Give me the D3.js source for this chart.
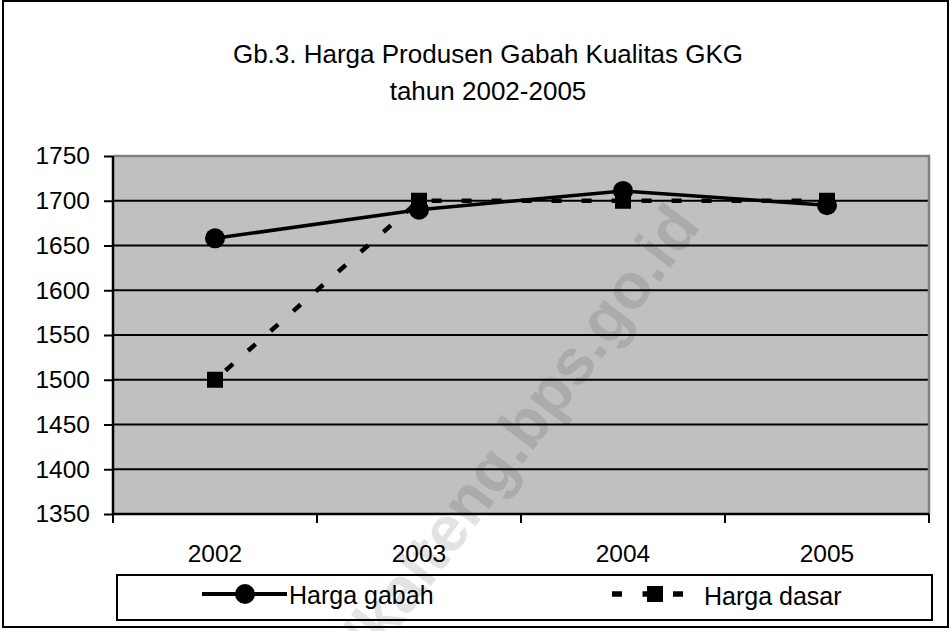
<!DOCTYPE html>
<html>
<head>
<meta charset="utf-8">
<script src="https://cdn.jsdelivr.net/npm/d3@7"></script>
<style>
  html, body { margin: 0; padding: 0; background: #fff; }
  svg { display: block; font-family: "Liberation Sans", Arial, sans-serif; }
</style>
</head>
<body>
<svg id="chart" width="950" height="631"></svg>
<script>
const categories = ["2002", "2003", "2004", "2005"];
const hargaGabah = [1658, 1690, 1711, 1695];
const hargaDasar = [1500, 1700, 1700, 1700];
const yTicks = [1350, 1400, 1450, 1500, 1550, 1600, 1650, 1700, 1750];
const titleLines = ["Gb.3. Harga Produsen Gabah Kualitas GKG", "tahun 2002-2005"];
const seriesNames = ["Harga gabah", "Harga dasar"];
const watermark = "http://kalteng.bps.go.id";

const svg = d3.select("#chart");
const plot = { left: 113, right: 929, top: 156, bottom: 514 };

const x = d3.scaleBand().domain(categories).range([plot.left, plot.right]).padding(0);
const y = d3.scaleLinear().domain([1350, 1750]).range([plot.bottom, plot.top]);

// outer frame
svg.append("rect").attr("x", 3).attr("y", 1).attr("width", 945).attr("height", 626)
  .attr("fill", "#fff").attr("stroke", "#000").attr("stroke-width", 2);

// title
svg.append("text").attr("x", 488).attr("y", 63).attr("text-anchor", "middle")
  .attr("font-size", 26).attr("fill", "#000").text(titleLines[0]);
svg.append("text").attr("x", 488).attr("y", 100).attr("text-anchor", "middle")
  .attr("font-size", 26).attr("fill", "#000").text(titleLines[1]);

// plot background
svg.append("rect").attr("x", plot.left).attr("y", plot.top)
  .attr("width", plot.right - plot.left).attr("height", plot.bottom - plot.top)
  .attr("fill", "#c0c0c0");

// gridlines
svg.append("g").selectAll("line").data(yTicks.filter(d => d > 1350 && d < 1750)).join("line")
  .attr("x1", plot.left).attr("x2", plot.right)
  .attr("y1", d => y(d)).attr("y2", d => y(d))
  .attr("stroke", "#000").attr("stroke-width", 2);

// plot border (top, right) gray
svg.append("path")
  .attr("d", `M${plot.left},${plot.top}H${plot.right}V${plot.bottom}`)
  .attr("fill", "none").attr("stroke", "#808080").attr("stroke-width", 2.5);

// y axis
const yAxis = d3.axisLeft(y).tickValues(yTicks).tickSize(9).tickPadding(14).tickFormat(d3.format("d"));
const yg = svg.append("g").attr("transform", `translate(${plot.left},0)`).call(yAxis);
yg.select(".domain").attr("stroke", "#000").attr("stroke-width", 2.5).attr("d", `M0,${plot.top}V${plot.bottom}`);
yg.selectAll(".tick line").attr("stroke", "#000").attr("stroke-width", 2);
yg.selectAll(".tick text").attr("font-size", 24.5).attr("fill", "#000")
  .attr("font-family", "Liberation Sans, Arial, sans-serif");

// x axis with ticks at category boundaries
const xg = svg.append("g").attr("transform", `translate(0,${plot.bottom})`);
xg.append("line").attr("x1", plot.left).attr("x2", plot.right).attr("y1", 0).attr("y2", 0)
  .attr("stroke", "#000").attr("stroke-width", 2.5);
const boundaries = categories.map(c => x(c)).concat([x(categories[categories.length - 1]) + x.bandwidth()]);
xg.selectAll("line.tk").data(boundaries).join("line").attr("class", "tk")
  .attr("x1", d => d).attr("x2", d => d).attr("y1", 0).attr("y2", 9)
  .attr("stroke", "#000").attr("stroke-width", 2);
xg.selectAll("text").data(categories).join("text")
  .attr("x", d => x(d) + x.bandwidth() / 2).attr("y", 48)
  .attr("text-anchor", "middle").attr("font-size", 24.5).attr("fill", "#000").text(d => d);

const cx = d => x(d) + x.bandwidth() / 2;

// Harga dasar (dashed, squares)
const lineDasar = d3.line().x((d, i) => cx(categories[i])).y(d => y(d));
svg.append("path").datum(hargaDasar).attr("d", lineDasar)
  .attr("fill", "none").attr("stroke", "#000").attr("stroke-width", 4.5)
  .attr("stroke-dasharray", "10,20").attr("stroke-dashoffset", -14);
svg.append("g").selectAll("rect").data(hargaDasar).join("rect")
  .attr("x", (d, i) => cx(categories[i]) - 8).attr("y", d => y(d) - 8)
  .attr("width", 16).attr("height", 16).attr("fill", "#000");

// Harga gabah (solid, circles)
const lineGabah = d3.line().x((d, i) => cx(categories[i])).y(d => y(d));
svg.append("path").datum(hargaGabah).attr("d", lineGabah)
  .attr("fill", "none").attr("stroke", "#000").attr("stroke-width", 3.5);
svg.append("g").selectAll("circle").data(hargaGabah).join("circle")
  .attr("cx", (d, i) => cx(categories[i])).attr("cy", d => y(d)).attr("r", 10).attr("fill", "#000");

// legend
svg.append("rect").attr("x", 117).attr("y", 575).attr("width", 815).attr("height", 45)
  .attr("fill", "#fff").attr("stroke", "#000").attr("stroke-width", 2);
const ly = 594;
svg.append("line").attr("x1", 202).attr("x2", 287).attr("y1", ly).attr("y2", ly)
  .attr("stroke", "#000").attr("stroke-width", 4);
svg.append("circle").attr("cx", 245).attr("cy", ly).attr("r", 10).attr("fill", "#000");
svg.append("text").attr("x", 289).attr("y", 604).attr("font-size", 25).attr("fill", "#000").text(seriesNames[0]);

svg.append("line").attr("x1", 612).attr("x2", 683).attr("y1", ly).attr("y2", ly)
  .attr("stroke", "#000").attr("stroke-width", 5.5).attr("stroke-dasharray", "10,20.5");
svg.append("rect").attr("x", 647).attr("y", ly - 8).attr("width", 16).attr("height", 16).attr("fill", "#000");
svg.append("text").attr("x", 704).attr("y", 605).attr("font-size", 25).attr("fill", "#000").text(seriesNames[1]);

// watermark
svg.append("text")
  .attr("transform", "translate(702,226) rotate(-53)")
  .attr("text-anchor", "end")
  .attr("font-size", 64).attr("font-weight", "bold")
  .attr("fill", "#000").attr("fill-opacity", 0.11)
  .text(watermark);
</script>
</body>
</html>
